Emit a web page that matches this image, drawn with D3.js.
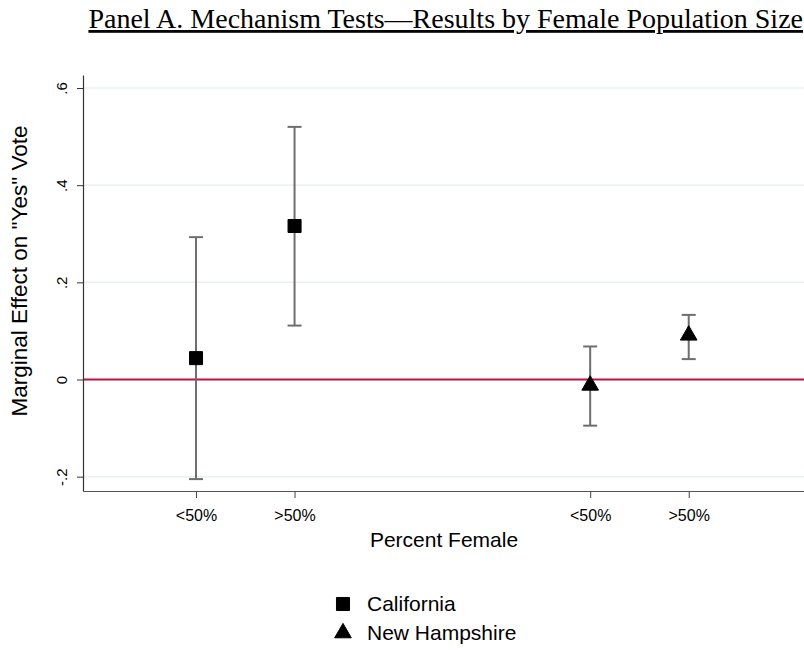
<!DOCTYPE html>
<html>
<head>
<meta charset="utf-8">
<script src="https://cdn.jsdelivr.net/npm/d3@7"></script>
<style>
  body { margin: 0; background: #fff; }
  svg { display: block; }
</style>
</head>
<body>
<div id="app"></div>
<script>
(function (d3) {

  'use strict'

  // data
  const groups = ['California', 'California', 'New Hampshire', 'New Hampshire']
  const xLabels = ['<50%', '>50%', '<50%', '>50%']
  const xPos = [1, 2, 5, 6]
  const estimates = [0.044, 0.316, -0.012, 0.091]
  const lower = [-0.205, 0.111, -0.095, 0.042]
  const upper = [0.293, 0.520, 0.068, 0.133]
  const yTicks = [-0.2, 0, 0.2, 0.4, 0.6]
  const yTickLabels = ['-.2', '0', '.2', '.4', '.6']
  const legendItems = ['California', 'New Hampshire']

  const w = 804
  const h = 650
  const left = 83
  const right = 804
  const top = 75
  const bottom = 491

  const svg = d3.select('#app')
    .append('svg')
    .attr('width', w)
    .attr('height', h)

  const x = d3.scaleLinear()
    .domain([-0.147, 7.17])
    .range([left, right])

  const y = d3.scaleLinear()
    .domain([-0.2295, 0.6268])
    .range([bottom, top])

  // title
  svg.append('text')
    .attr('x', 803)
    .attr('y', 28)
    .attr('text-anchor', 'end')
    .style('font-family', '"Liberation Serif", "Times New Roman", serif')
    .style('font-size', '28px')
    .style('text-decoration', 'underline')
    .text('Panel A. Mechanism Tests\u2014Results by Female Population Size')

  // gridlines
  svg.append('g')
    .selectAll('line')
    .data(yTicks)
    .enter()
    .append('line')
    .attr('x1', left)
    .attr('x2', right)
    .attr('y1', d => y(d))
    .attr('y2', d => y(d))
    .attr('stroke', '#eaf0f2')
    .attr('stroke-width', 1.5)

  // zero line
  svg.append('line')
    .attr('x1', left)
    .attr('x2', right)
    .attr('y1', y(0))
    .attr('y2', y(0))
    .attr('stroke', '#c3123f')
    .attr('stroke-width', 2)

  // y axis
  const yAxis = svg.append('g')
    .attr('transform', 'translate(' + left + ',0)')
    .call(d3.axisLeft(y).tickValues(yTicks).tickSize(6).tickSizeOuter(0).tickFormat((d, i) => yTickLabels[i]))
  yAxis.select('.domain').attr('stroke', '#333').attr('stroke-width', 1.2)
  yAxis.selectAll('.tick line').attr('stroke', '#333')
  yAxis.selectAll('.tick text')
    .attr('x', null)
    .attr('dy', null)
    .attr('text-anchor', 'middle')
    .attr('transform', 'translate(-16,0) rotate(-90)')
    .style('font-family', '"Liberation Sans", Arial, sans-serif')
    .style('font-size', '15px')
    .attr('fill', '#000')

  // x axis
  const xAxis = svg.append('g')
    .attr('transform', 'translate(0,' + bottom + ')')
    .call(d3.axisBottom(x).tickValues(xPos).tickSize(7).tickSizeOuter(0).tickFormat((d, i) => xLabels[i]))
  xAxis.select('.domain').attr('stroke', '#555').attr('stroke-width', 1.2)
  xAxis.selectAll('.tick line').attr('stroke', '#444')
  xAxis.selectAll('.tick text')
    .attr('y', 19)
    .style('font-family', '"Liberation Sans", Arial, sans-serif')
    .style('font-size', '16px')
    .attr('fill', '#000')

  // axis titles
  svg.append('text')
    .attr('transform', 'translate(27,271) rotate(-90)')
    .attr('text-anchor', 'middle')
    .style('font-family', '"Liberation Sans", Arial, sans-serif')
    .style('font-size', '22.5px')
    .text('Marginal Effect on "Yes" Vote')

  svg.append('text')
    .attr('x', 444)
    .attr('y', 547)
    .attr('text-anchor', 'middle')
    .style('font-family', '"Liberation Sans", Arial, sans-serif')
    .style('font-size', '21px')
    .text('Percent Female')

  // error bars
  const bars = svg.append('g')
    .selectAll('g')
    .data(xPos)
    .enter()
    .append('g')
    .attr('stroke', '#6e6e6e')
    .attr('stroke-width', 2)

  bars.append('line')
    .attr('x1', d => x(d))
    .attr('x2', d => x(d))
    .attr('y1', (d, i) => y(lower[i]))
    .attr('y2', (d, i) => y(upper[i]))
  bars.append('line')
    .attr('x1', d => x(d) - 7)
    .attr('x2', d => x(d) + 7)
    .attr('y1', (d, i) => y(lower[i]))
    .attr('y2', (d, i) => y(lower[i]))
  bars.append('line')
    .attr('x1', d => x(d) - 7)
    .attr('x2', d => x(d) + 7)
    .attr('y1', (d, i) => y(upper[i]))
    .attr('y2', (d, i) => y(upper[i]))

  // markers
  const square = d3.symbol().type(d3.symbolSquare).size(170)
  const triangle = d3.symbol().type(d3.symbolTriangle).size(120)

  svg.append('g')
    .selectAll('path')
    .data(xPos)
    .enter()
    .append('path')
    .attr('transform', (d, i) => 'translate(' + x(d) + ',' + y(estimates[i]) + ')')
    .attr('d', (d, i) => groups[i] === 'California' ? square() : triangle())
    .attr('fill', '#000')
    .attr('stroke', '#000')
    .attr('stroke-width', 1)
    .attr('stroke-linejoin', 'round')

  // legend
  const legend = svg.append('g')
    .selectAll('g')
    .data(legendItems)
    .enter()
    .append('g')
    .attr('transform', (d, i) => 'translate(343,' + (604 + i * 29) + ')')

  legend.append('path')
    .attr('d', (d, i) => i === 0 ? square() : triangle())
    .attr('fill', '#000')
    .attr('stroke', '#000')
    .attr('stroke-width', 1)
    .attr('stroke-linejoin', 'round')

  legend.append('text')
    .attr('x', 24)
    .attr('y', 7)
    .style('font-family', '"Liberation Sans", Arial, sans-serif')
    .style('font-size', '21px')
    .text(d => d)

}(d3))
</script>
</body>
</html>
